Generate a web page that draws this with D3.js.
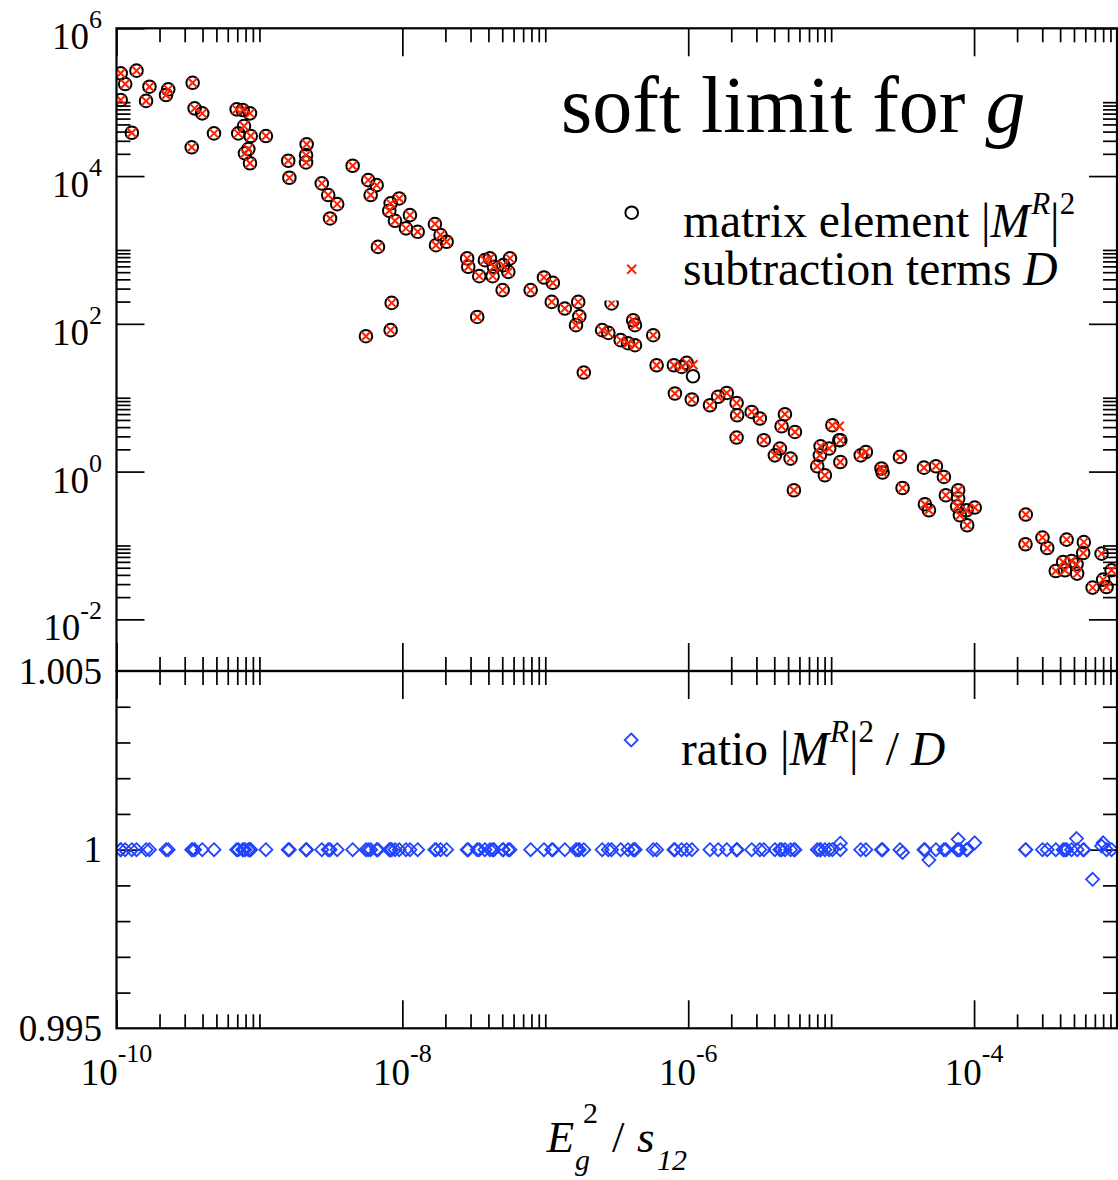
<!DOCTYPE html>
<html>
<head>
<meta charset="utf-8">
<script src="https://cdn.jsdelivr.net/npm/d3@7"></script>
<style>
  body { margin: 0; background: #fff; }
  svg text { font-family: "Liberation Serif", "Times New Roman", serif; fill: #000; }
</style>
</head>
<body>
<svg id="chart" width="1118" height="1180"></svg>
<script>
// E_g^2 / s_12 for every phase-space point
const egS = [
  1.07e-10, 1.15e-10, 1.07e-10, 1.38e-10, 1.28e-10, 1.70e-10, 1.61e-10, 2.22e-10, 2.30e-10, 3.41e-10,
  3.52e-10, 3.98e-10, 3.36e-10, 4.81e-10, 6.93e-10, 7.63e-10, 8.59e-10, 7.80e-10, 7.11e-10, 8.69e-10,
  8.36e-10, 7.92e-10, 8.59e-10, 1.11e-9, 1.59e-9, 1.62e-9, 2.14e-9, 2.12e-9, 2.12e-9, 2.73e-9,
  3.03e-9, 3.50e-9, 3.12e-9, 4.49e-9, 5.77e-9, 6.00e-9, 6.61e-9, 6.75e-9, 5.56e-9, 9.51e-9,
  8.28e-9, 8.10e-9, 1.13e-8, 8.88e-9, 1.06e-8, 1.28e-8, 1.69e-8, 1.85e-8, 2.04e-8, 1.72e-8,
  8.42e-9, 8.28e-9, 3.34e-8, 2.84e-8, 2.89e-8, 3.45e-8, 3.78e-8, 4.10e-8, 4.37e-8, 4.28e-8,
  5.08e-8, 5.51e-8, 5.66e-8, 5.03e-8, 7.90e-8, 9.79e-8, 1.13e-7, 1.11e-7, 1.37e-7, 1.70e-7,
  1.73e-7, 1.64e-7, 2.91e-7, 2.50e-7, 2.76e-7, 3.37e-7, 4.12e-7, 4.24e-7, 4.24e-7, 5.69e-7,
  1.86e-7, 6.01e-7, 7.94e-7, 8.99e-7, 9.75e-7, 1.08e-6, 8.07e-7, 1.06e-6, 1.42e-6, 1.62e-6,
  1.86e-6, 2.18e-6, 2.20e-6, 2.18e-6, 3.79e-7, 2.78e-6, 3.17e-6, 4.75e-6, 4.50e-6, 5.58e-6,
  3.38e-6, 4.38e-6, 4.04e-6, 5.20e-6, 5.49e-6, 1.02e-5, 1.14e-5, 8.44e-6, 9.69e-6, 1.16e-5,
  8.34e-6, 7.99e-6, 9.04e-6, 1.16e-5, 1.61e-5, 1.75e-5, 2.25e-5, 2.29e-5, 3.03e-5, 3.16e-5,
  4.46e-5, 5.41e-5, 6.15e-5, 4.53e-5, 4.83e-5, 6.35e-5, 7.74e-5, 7.74e-5, 7.62e-5, 7.96e-5,
  8.86e-5, 1.01e-4, 8.95e-5, 2.30e-4, 2.29e-4, 3.01e-4, 3.25e-4, 4.44e-4, 5.86e-4, 5.80e-4,
  4.20e-4, 4.81e-4, 5.21e-4, 3.73e-4, 4.32e-4, 5.26e-4, 7.80e-4, 6.75e-4, 8.00e-4, 8.45e-4,
  9.16e-4
];

// matrix element |M^R|^2
const matrixEl = [
  2.46e5, 1.76e5, 1.07e5, 2.67e5, 3.86e4, 1.62e5, 1.04e5, 1.25e5, 1.49e5, 1.83e5,
  8.25e4, 7.06e4, 2.45e4, 3.78e4, 8.0e4, 7.83e4, 7.06e4, 4.75e4, 3.78e4, 3.48e4,
  2.32e4, 2.03e4, 1.49e4, 3.48e4, 1.61e4, 9.48e3, 2.69e4, 1.92e4, 1.53e4, 7.96e3,
  5.53e3, 4.17e3, 2.67e3, 1.38e4, 8.82e3, 5.53e3, 7.55e3, 1.10e3, 68.0, 4.98e3,
  4.27e3, 3.39e3, 2.96e3, 2.48e3, 1.96e3, 1.76e3, 2.24e3, 1.59e3, 1.29e3, 1.16e3,
  192, 82.1, 124, 768, 591, 442, 728, 768, 591, 442,
  623, 505, 768, 286, 286, 424, 359, 198, 161, 198,
  126, 95.9, 189, 82.1, 75.4, 60.1, 112, 95.9, 51.4, 70.2,
  21.9, 27.5, 27.5, 26.1, 29.6, 19.5, 11.4, 9.45, 7.91, 10.3,
  11.6, 8.50, 5.79, 2.89, 54.7, 6.42, 5.23, 5.98, 4.11, 3.44,
  2.66, 2.05, 1.66, 1.50, 0.559, 4.24, 2.66, 2.20, 2.05, 2.66,
  1.66, 1.18, 0.892, 1.35, 1.66, 1.84, 1.10, 0.971, 1.58, 0.600,
  1.13, 1.18, 0.846, 0.361, 0.300, 0.478, 0.559, 0.431, 0.339, 0.256,
  0.300, 0.326, 0.188, 0.262, 0.104, 0.128, 0.0924, 0.120, 0.111, 0.0791,
  0.0597, 0.0616, 0.0556, 0.0451, 0.0461, 0.0416, 0.0776, 0.0269, 0.0345, 0.0274,
  0.0461
];

// subtraction terms D
const subTerms = [
  2.46e5, 1.76e5, 1.07e5, 2.67e5, 3.86e4, 1.62e5, 1.04e5, 1.25e5, 1.49e5, 1.83e5,
  8.25e4, 7.06e4, 2.45e4, 3.78e4, 8.0e4, 7.83e4, 7.06e4, 4.75e4, 3.78e4, 3.48e4,
  2.32e4, 2.03e4, 1.49e4, 3.48e4, 1.61e4, 9.48e3, 2.69e4, 1.92e4, 1.53e4, 7.96e3,
  5.53e3, 4.17e3, 2.67e3, 1.38e4, 8.82e3, 5.53e3, 7.55e3, 1.10e3, 68.0, 4.98e3,
  4.27e3, 3.39e3, 2.96e3, 2.48e3, 1.96e3, 1.76e3, 2.24e3, 1.59e3, 1.29e3, 1.16e3,
  192, 82.1, 124, 768, 591, 442, 728, 768, 591, 442,
  623, 505, 768, 286, 286, 424, 359, 198, 161, 198,
  126, 95.9, 189, 82.1, 75.4, 60.1, 112, 95.9, 51.4, 70.2,
  21.9, 27.5, 27.5, 26.1, 29.6, 28.0, 11.4, 9.45, 7.91, 10.3,
  11.6, 8.50, 5.79, 2.89, 54.7, 6.42, 5.23, 5.98, 4.11, 3.44,
  2.66, 2.05, 1.66, 1.50, 0.559, 4.24, 4.11, 2.20, 2.05, 2.66,
  1.66, 1.18, 0.892, 1.35, 1.66, 1.84, 1.10, 0.971, 1.58, 0.600,
  1.13, 1.18, 0.846, 0.361, 0.300, 0.478, 0.559, 0.431, 0.339, 0.256,
  0.300, 0.326, 0.188, 0.262, 0.104, 0.128, 0.0924, 0.120, 0.111, 0.0791,
  0.0597, 0.0616, 0.0556, 0.0451, 0.0461, 0.0416, 0.0776, 0.0269, 0.0345, 0.0274,
  0.0461
];

// ratio |M^R|^2 / D
const ratioVals = [
  1, 1, 1, 1, 1, 1, 1, 1, 1, 1,
  1, 1, 1, 1, 1, 1, 1, 1, 1, 1,
  1, 1, 1, 1, 1, 1, 1, 1, 1, 1,
  1, 1, 1, 1, 1, 1, 1, 1, 1, 1,
  1, 1, 1, 1, 1, 1, 1, 1, 1, 1,
  1, 1, 1, 1, 1, 1, 1, 1, 1, 1,
  1, 1, 1, 1, 1, 1, 1, 1, 1, 1,
  1, 1, 1, 1, 1, 1, 1, 1, 1, 1,
  1, 1, 1, 1, 1, 0.696, 1, 1, 1, 1,
  1, 1, 1, 1, 1, 1, 1, 1, 1, 1,
  1, 1, 1, 1, 1, 1, 0.647, 1, 1, 1.00018,
  1, 1, 1, 1, 1, 1, 1, 1, 1, 0.99992,
  1, 1, 1, 1, 0.99971, 1, 1.00029, 1, 1, 1,
  1, 1.00019, 1, 1, 1, 1, 1, 1, 1, 1,
  1, 1, 1.00031, 1, 1, 1, 1.0001, 0.99917, 1.00019, 1,
  1
];

const xMajor = [1e-10, 1e-8, 1e-6, 1e-4];
const xMajorExp = ["-10", "-8", "-6", "-4"];
const yTopMajor = [1e6, 1e4, 1e2, 1, 1e-2];
const yTopMajorExp = ["6", "4", "2", "0", "-2"];
const yBotMajor = [1.005, 1, 0.995];
const yBotLabels = ["1.005", "1", "0.995"];
const yBotMinor = [0.996, 0.997, 0.998, 0.999, 1.001, 1.002, 1.003, 1.004];
const minorSteps = [2, 3, 4, 5, 6, 7, 8, 9, 10];

// panel edges
const pL = 116.5, pR = 1117, pT = 28.3, pM = 671, pB = 1028.3;
const svg = d3.select("#chart");

const x = d3.scaleLog().domain([1e-10, 1e-3]).range([pL, pR]);
const yTop = d3.scaleLog().domain([0.002, 1e6]).range([pM, pT]);
const yBot = d3.scaleLinear().domain([0.995, 1.005]).range([pB, pM]);

const xMinor = xMajor.flatMap(v => minorSteps.map(k => k * v));
const yTopMinor = yTopMajor.flatMap(v => minorSteps.map(k => k * v)).filter(v => v <= 1e6);

// tick marks, all pointing into the panels
function ticks(axis, scale, vals, size, tx, ty) {
    svg.append("g")
        .attr("transform", `translate(${tx},${ty})`)
        .call(axis(scale).tickValues(vals).tickSize(-size).tickFormat(""))
        .call(g => g.select(".domain").remove())
        .call(g => g.selectAll("line").attr("stroke", "#000").attr("stroke-width", 1.7));
}
// top panel
ticks(d3.axisLeft, yTop, yTopMajor, 28, pL, 0);
ticks(d3.axisLeft, yTop, yTopMinor, 14, pL, 0);
ticks(d3.axisRight, yTop, yTopMajor, 28, pR, 0);
ticks(d3.axisRight, yTop, yTopMinor, 14, pR, 0);
ticks(d3.axisTop, x, xMajor, 28, 0, pT);
ticks(d3.axisTop, x, xMinor, 14, 0, pT);
ticks(d3.axisBottom, x, xMajor, 28, 0, pM);
ticks(d3.axisBottom, x, xMinor, 14, 0, pM);
// bottom panel
ticks(d3.axisLeft, yBot, [1], 28, pL, 0);
ticks(d3.axisLeft, yBot, yBotMinor, 14, pL, 0);
ticks(d3.axisRight, yBot, [1], 28, pR, 0);
ticks(d3.axisRight, yBot, yBotMinor, 14, pR, 0);
ticks(d3.axisTop, x, xMajor, 28, 0, pM);
ticks(d3.axisTop, x, xMinor, 14, 0, pM);
ticks(d3.axisBottom, x, xMajor, 28, 0, pB);
ticks(d3.axisBottom, x, xMinor, 14, 0, pB);

// clip paths
const defs = svg.append("defs");
defs.append("clipPath").attr("id", "clipTop")
    .append("rect").attr("x", pL).attr("y", pT).attr("width", pR - pL).attr("height", pM - pT);
defs.append("clipPath").attr("id", "clipBot")
    .append("rect").attr("x", pL).attr("y", pM).attr("width", pR - pL).attr("height", pB - pM);

const idx = d3.range(egS.length);
const gTop = svg.append("g").attr("clip-path", "url(#clipTop)");
gTop.selectAll("circle")
    .data(idx)
    .join("circle")
    .attr("cx", i => x(egS[i]))
    .attr("cy", i => yTop(matrixEl[i]))
    .attr("r", 6.3)
    .attr("fill", "none")
    .attr("stroke", "#000")
    .attr("stroke-width", 2);
const crossPath = "M-4.5,-4.5L4.5,4.5M-4.5,4.5L4.5,-4.5";
gTop.selectAll("path.cross")
    .data(idx)
    .join("path")
    .attr("class", "cross")
    .attr("transform", i => `translate(${x(egS[i])},${yTop(subTerms[i])})`)
    .attr("d", crossPath)
    .attr("fill", "none")
    .attr("stroke", "#ff2200")
    .attr("stroke-width", 2);

const diamondPath = "M0,-6.5L6.5,0L0,6.5L-6.5,0Z";
const gBot = svg.append("g").attr("clip-path", "url(#clipBot)");
gBot.selectAll("path")
    .data(idx.filter(i => ratioVals[i] >= 0.995 && ratioVals[i] <= 1.005))
    .join("path")
    .attr("transform", i => `translate(${x(egS[i])},${yBot(ratioVals[i])})`)
    .attr("d", diamondPath)
    .attr("fill", "none")
    .attr("stroke", "#2244ff")
    .attr("stroke-width", 1.8);

// frames
[[pT, pM], [pM, pB]].forEach(([y0, y1]) => {
    svg.append("rect")
        .attr("x", pL).attr("y", y0)
        .attr("width", pR - pL).attr("height", y1 - y0)
        .attr("fill", "none").attr("stroke", "#000").attr("stroke-width", 2.2);
});

// tick labels
xMajor.forEach((v, i) => {
    const t = svg.append("text")
        .attr("x", x(v)).attr("y", 1085)
        .attr("text-anchor", "middle")
        .attr("font-size", 37);
    t.append("tspan").text("10");
    t.append("tspan").attr("font-size", 26).attr("dy", -23).text(xMajorExp[i]);
});
yTopMajor.forEach((v, i) => {
    const t = svg.append("text")
        .attr("x", 102).attr("y", yTop(v) + 21)
        .attr("text-anchor", "end")
        .attr("font-size", 37);
    t.append("tspan").text("10");
    t.append("tspan").attr("font-size", 26).attr("dy", -21).text(yTopMajorExp[i]);
});
yBotMajor.forEach((v, i) => {
    svg.append("text")
        .attr("x", 102).attr("y", yBot(v) + 12.5)
        .attr("text-anchor", "end")
        .attr("font-size", 37)
        .text(yBotLabels[i]);
});

// title
const title = svg.append("text")
    .attr("x", 561).attr("y", 131.7)
    .attr("font-size", 80)
    .text("soft limit for ");
title.append("tspan").attr("font-style", "italic").text("g");

// legend of the top panel, opaque box over the points
svg.append("rect")
    .attr("x", 598).attr("y", 188).attr("width", 497).attr("height", 112.5)
    .attr("fill", "#fff");
svg.append("circle")
    .attr("cx", 631.7).attr("cy", 212.7).attr("r", 6.3)
    .attr("fill", "none").attr("stroke", "#000").attr("stroke-width", 2);
svg.append("path")
    .attr("transform", "translate(631.7,269.3)")
    .attr("d", crossPath)
    .attr("fill", "none").attr("stroke", "#ff2200").attr("stroke-width", 2);
const leg1 = svg.append("text").attr("x", 683).attr("y", 236.7).attr("font-size", 47.5);
leg1.append("tspan").text("matrix element |");
leg1.append("tspan").attr("font-style", "italic").text("M");
leg1.append("tspan").attr("font-style", "italic").attr("font-size", 31).attr("dy", -23).attr("dx", 1).text("R");
leg1.append("tspan").attr("dy", 23).text("|");
leg1.append("tspan").attr("font-size", 31).attr("dy", -23).text("2");
const leg2 = svg.append("text").attr("x", 683).attr("y", 285).attr("font-size", 47.5);
leg2.append("tspan").text("subtraction terms ");
leg2.append("tspan").attr("font-style", "italic").text("D");

// legend of the ratio panel
svg.append("path")
    .attr("transform", "translate(631.2,740)")
    .attr("d", diamondPath)
    .attr("fill", "none").attr("stroke", "#2244ff").attr("stroke-width", 1.8);
const leg3 = svg.append("text").attr("x", 681).attr("y", 765).attr("font-size", 47.5);
leg3.append("tspan").text("ratio |");
leg3.append("tspan").attr("font-style", "italic").text("M");
leg3.append("tspan").attr("font-style", "italic").attr("font-size", 31).attr("dy", -23).attr("dx", 1).text("R");
leg3.append("tspan").attr("dy", 23).text("|");
leg3.append("tspan").attr("font-size", 31).attr("dy", -23).text("2");
leg3.append("tspan").attr("dy", 23).text(" / ");
leg3.append("tspan").attr("font-style", "italic").text("D");

// x axis title  E_g^2 / s_12
const xt = svg.append("g");
xt.append("text").attr("x", 546.7).attr("y", 1151.7).attr("font-size", 45).attr("font-style", "italic").text("E");
xt.append("text").attr("x", 575).attr("y", 1170).attr("font-size", 30).attr("font-style", "italic").text("g");
xt.append("text").attr("x", 583).attr("y", 1123).attr("font-size", 30).text("2");
xt.append("text").attr("x", 612).attr("y", 1151.7).attr("font-size", 45).text("/");
xt.append("text").attr("x", 637).attr("y", 1151.7).attr("font-size", 45).attr("font-style", "italic").text("s");
xt.append("text").attr("x", 657).attr("y", 1170).attr("font-size", 30).attr("font-style", "italic").text("12");
</script>
</body>
</html>
